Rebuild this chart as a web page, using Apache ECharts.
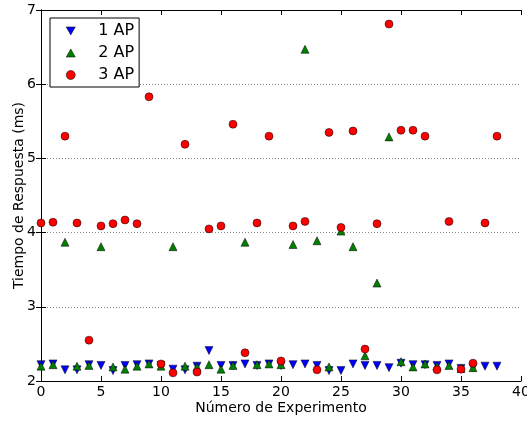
<!DOCTYPE html>
<html>
<head>
<meta charset="utf-8">
<script src="https://cdn.jsdelivr.net/npm/echarts@6/dist/echarts.min.js"></script>
<style>html,body{margin:0;padding:0;background:#fff}#c{width:527px;height:421px}</style>
</head>
<body>
<div id="c"></div>
<script>
const experiments = Array.from({length: 39}, (_, i) => i);
const ap1 = [2.22,2.23,2.15,2.15,2.22,2.21,2.14,2.21,2.22,2.23,2.21,2.16,2.15,2.20,2.41,2.21,2.21,2.23,2.21,2.23,2.21,2.22,2.23,2.21,2.14,2.14,2.23,2.21,2.21,2.18,2.24,2.22,2.22,2.21,2.23,2.17,2.18,2.20,2.20];
const ap2 = [2.20,2.22,3.87,2.20,2.21,3.81,2.19,2.16,2.20,2.23,2.20,3.81,2.20,2.19,2.22,2.16,2.21,3.87,2.22,2.23,2.22,3.84,6.47,3.89,2.19,4.02,3.81,2.34,3.32,5.29,2.26,2.19,2.23,2.20,2.21,2.17,2.18,null,null];
const ap3 = [4.13,4.14,5.30,4.13,2.55,4.09,4.12,4.17,4.12,5.83,2.23,2.11,5.19,2.12,4.05,4.09,5.46,2.38,4.13,5.30,2.27,4.09,4.15,2.15,5.35,4.07,5.37,2.43,4.12,6.81,5.38,5.38,5.30,2.15,4.15,2.16,2.24,4.13,5.30];
const seriesNames = ['1 AP','2 AP','3 AP'];
const xTicks = {min: 0, max: 40, interval: 5};
const yTicks = {min: 2, max: 7, interval: 1};

const font = 'DejaVu Sans';
function pairs(arr){ return experiments.map((x,i)=> arr[i]==null ? null : [x, arr[i]]).filter(p=>p); }
const downTri = 'path://M0,0L10,0L5,9Z';
const upTri = 'path://M5,0L10,9L0,9Z';

const chart = echarts.init(document.getElementById('c'), null, {renderer:'canvas'});
const axisLine = {show:true, lineStyle:{color:'#000', width:1}};
const tick = {show:true, inside:true, length:5, lineStyle:{color:'#000', width:1}};
chart.setOption({
  animation:false,
  backgroundColor:'#fff',
  grid:{left:41, right:6, top:10, bottom:40, containLabel:false, outerBoundsMode:'none'},
  legend:{
    left:50, top:18, orient:'vertical',
    data:[
      {name:seriesNames[0], icon:downTri},
      {name:seriesNames[1], icon:upTri},
      {name:seriesNames[2], icon:'circle'}
    ],
    backgroundColor:'#fff', borderColor:'#000', borderWidth:1, borderRadius:0,
    padding:[4,5,3,16],
    itemWidth:9, itemHeight:9, itemGap:4,
    itemStyle:{borderWidth:0.5},
    textStyle:{fontFamily:font, fontSize:16, lineHeight:18, color:'#000', padding:[0,0,0,18]}
  },
  xAxis:[
    {type:'value', min:xTicks.min, max:xTicks.max, interval:xTicks.interval, position:'bottom',
     name:'Número de Experimento', nameLocation:'middle', nameGap:20, nameMoveOverlap:false,
     nameTextStyle:{fontFamily:font, fontSize:14, color:'#000'},
     axisLine, axisTick:tick, splitLine:{show:false},
     axisLabel:{fontFamily:font, fontSize:14, color:'#000', margin:4}},
    {type:'value', min:xTicks.min, max:xTicks.max, interval:xTicks.interval, position:'top',
     axisLine, axisTick:tick, splitLine:{show:false}, axisLabel:{show:false}}
  ],
  yAxis:[
    {type:'value', min:yTicks.min, max:yTicks.max, interval:yTicks.interval, position:'left',
     name:'Tiempo de Respuesta (ms)', nameLocation:'middle', nameGap:15, nameMoveOverlap:false,
     nameTextStyle:{fontFamily:font, fontSize:14, color:'#000'},
     axisLine, axisTick:tick,
     splitLine:{show:true, lineStyle:{color:'#888', type:[1,2], width:1}},
     axisLabel:{fontFamily:font, fontSize:14, color:'#000', margin:5}},
    {type:'value', min:yTicks.min, max:yTicks.max, interval:yTicks.interval, position:'right',
     axisLine, axisTick:tick, splitLine:{show:false}, axisLabel:{show:false}}
  ],
  series:[
    {name:seriesNames[0], type:'scatter', data:pairs(ap1), symbol:'triangle', symbolRotate:180, symbolSize:8,
     itemStyle:{color:'#0000ff', borderColor:'#000', borderWidth:0.5, opacity:1}},
    {name:seriesNames[1], type:'scatter', data:pairs(ap2), symbol:'triangle', symbolSize:8,
     itemStyle:{color:'#007f00', borderColor:'#000', borderWidth:0.5, opacity:1}},
    {name:seriesNames[2], type:'scatter', data:pairs(ap3), symbol:'circle', symbolSize:8,
     itemStyle:{color:'#ff0000', borderColor:'#000', borderWidth:0.5, opacity:1}}
  ]
});
</script>
</body>
</html>
